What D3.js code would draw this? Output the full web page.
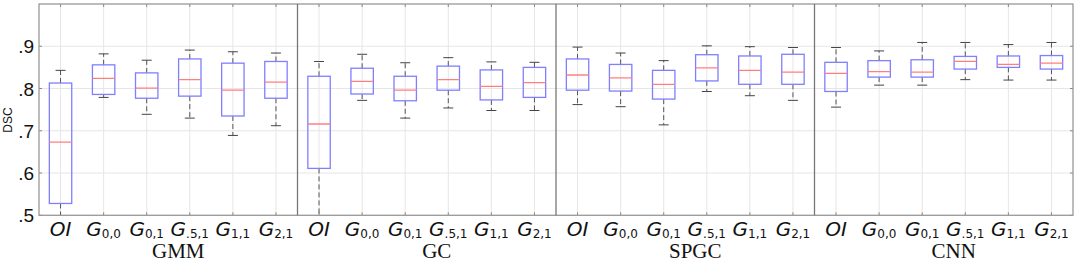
<!DOCTYPE html>
<html><head><meta charset="utf-8">
<script src="https://cdn.jsdelivr.net/npm/d3@7"></script>
<style>body{margin:0;background:#fff}</style>
</head><body>
<svg id="c" width="1078" height="265"></svg>
<script>
const groups = ["GMM", "GC", "SPGC", "CNN"];
const methods = ["OI", "G0,0", "G0,1", "G.5,1", "G1,1", "G2,1"];
const methodBase = ["OI", "G", "G", "G", "G", "G"];
const methodSub = ["", "0,0", "0,1", ".5,1", "1,1", "2,1"];
const yTicks = [0.5, 0.6, 0.7, 0.8, 0.9];
const yTickLabels = [".5", ".6", ".7", ".8", ".9"];
// [lower whisker, Q1, median, Q3, upper whisker]
const gmm = [[0.45, 0.528, 0.673, 0.813, 0.843], [0.779, 0.786, 0.824, 0.856, 0.882], [0.739, 0.777, 0.801, 0.837, 0.867], [0.730, 0.782, 0.821, 0.870, 0.891], [0.689, 0.735, 0.796, 0.860, 0.887], [0.712, 0.777, 0.815, 0.864, 0.884]];
const gc = [[0.45, 0.611, 0.716, 0.829, 0.864], [0.772, 0.787, 0.817, 0.848, 0.881], [0.730, 0.771, 0.796, 0.829, 0.861], [0.754, 0.796, 0.821, 0.853, 0.873], [0.748, 0.773, 0.805, 0.844, 0.863], [0.748, 0.779, 0.814, 0.850, 0.862]];
const spgc = [[0.762, 0.796, 0.832, 0.870, 0.898], [0.757, 0.794, 0.825, 0.857, 0.884], [0.714, 0.775, 0.810, 0.843, 0.866], [0.793, 0.818, 0.849, 0.880, 0.901], [0.783, 0.810, 0.843, 0.877, 0.899], [0.772, 0.810, 0.839, 0.881, 0.897]];
const cnn = [[0.756, 0.793, 0.836, 0.862, 0.897], [0.808, 0.827, 0.840, 0.866, 0.889], [0.808, 0.827, 0.839, 0.868, 0.909], [0.821, 0.846, 0.864, 0.876, 0.909], [0.820, 0.850, 0.857, 0.877, 0.904], [0.820, 0.846, 0.860, 0.878, 0.909]];
const stats = [gmm, gc, spgc, cnn];

const svg = d3.select("#c");
const L = 39, R = 1073, T = 4, B = 215.3;
const y = d3.scaleLinear().domain([0.5, 1.0]).range([B, T]);
const xg = d3.scaleBand().domain(groups).range([L, R]);
const xc = d3.scaleBand().domain(methods).range([0, xg.bandwidth()]);
const boxW = xc.bandwidth() * 0.52, capW = 10;

svg.append("defs").append("clipPath").attr("id", "clip")
  .append("rect").attr("x", L).attr("y", T).attr("width", R - L).attr("height", B - T);

// horizontal grid
svg.append("g").selectAll("line").data(yTicks.slice(1)).join("line")
  .attr("x1", L).attr("x2", R).attr("y1", d => y(d)).attr("y2", d => y(d))
  .attr("stroke", "#e6e6e6").attr("stroke-width", 1);

// vertical grid + ticks
groups.forEach(g => {
  methods.forEach(m => {
    const cx = xg(g) + xc(m) + xc.bandwidth() / 2;
    svg.append("line").attr("x1", cx).attr("x2", cx).attr("y1", T).attr("y2", B)
      .attr("stroke", "#e6e6e6").attr("stroke-width", 1);
    svg.append("line").attr("x1", cx).attr("x2", cx).attr("y1", T).attr("y2", T + 3)
      .attr("stroke", "#888").attr("stroke-width", 1);
    svg.append("line").attr("x1", cx).attr("x2", cx).attr("y1", B).attr("y2", B - 3)
      .attr("stroke", "#888").attr("stroke-width", 1);
  });
});

// y ticks
yTicks.forEach(t => {
  svg.append("line").attr("x1", L).attr("x2", L + 3).attr("y1", y(t)).attr("y2", y(t))
    .attr("stroke", "#888");
  svg.append("line").attr("x1", R).attr("x2", R - 3).attr("y1", y(t)).attr("y2", y(t))
    .attr("stroke", "#888");
});

// boxes
const plot = svg.append("g").attr("clip-path", "url(#clip)");
groups.forEach((g, gi) => {
  stats[gi].forEach((s, mi) => {
    const cx = xg(g) + xc(methods[mi]) + xc.bandwidth() / 2;
    const [lo, q1, md, q3, hi] = s;
    const gg = plot.append("g");
    gg.append("line").attr("x1", cx).attr("x2", cx).attr("y1", y(q3)).attr("y2", y(hi))
      .attr("stroke", "#555").attr("stroke-dasharray", "5,3").attr("stroke-width", 1);
    gg.append("line").attr("x1", cx).attr("x2", cx).attr("y1", y(q1)).attr("y2", y(lo))
      .attr("stroke", "#555").attr("stroke-dasharray", "5,3").attr("stroke-width", 1);
    gg.append("line").attr("x1", cx - capW / 2).attr("x2", cx + capW / 2).attr("y1", y(hi)).attr("y2", y(hi))
      .attr("stroke", "#444").attr("stroke-width", 1);
    gg.append("line").attr("x1", cx - capW / 2).attr("x2", cx + capW / 2).attr("y1", y(lo)).attr("y2", y(lo))
      .attr("stroke", "#444").attr("stroke-width", 1);
    gg.append("rect").attr("x", cx - boxW / 2).attr("y", y(q3)).attr("width", boxW)
      .attr("height", y(q1) - y(q3)).attr("fill", "none").attr("stroke", "#7f7fff").attr("stroke-width", 1.3);
    gg.append("line").attr("x1", cx - boxW / 2).attr("x2", cx + boxW / 2).attr("y1", y(md)).attr("y2", y(md))
      .attr("stroke", "#ff7f7f").attr("stroke-width", 1.3);
  });
});

// frame
svg.append("rect").attr("x", L).attr("y", T).attr("width", R - L).attr("height", B - T)
  .attr("fill", "none").attr("stroke", "#999").attr("stroke-width", 1.3);
// group separators
groups.slice(1).forEach(g => {
  svg.append("line").attr("x1", xg(g)).attr("x2", xg(g)).attr("y1", T).attr("y2", B)
    .attr("stroke", "#777").attr("stroke-width", 1.3);
});

// y labels
svg.append("g").selectAll("text").data(yTicks).join("text")
  .attr("x", 34).attr("y", d => y(d) + 7).attr("text-anchor", "end")
  .attr("font-family", "Liberation Sans, Arial, sans-serif").attr("font-size", 19).attr("fill", "#111")
  .text((d, i) => yTickLabels[i]);
svg.append("text").attr("transform", "translate(12,120) rotate(-90)").attr("text-anchor", "middle")
  .attr("font-family", "Liberation Sans, Arial, sans-serif").attr("font-size", 12).attr("fill", "#111").text("DSC");

// x labels
groups.forEach((g, gi) => {
  methods.forEach((m, mi) => {
    const cx = xg(g) + xc(m) + xc.bandwidth() / 2;
    const t = svg.append("text").attr("x", cx).attr("y", 236).attr("text-anchor", "middle")
      .attr("font-family", "DejaVu Sans, sans-serif").attr("font-size", 20).attr("fill", "#111");
    t.append("tspan").attr("font-style", "italic").text(methodBase[mi]);
    if (methodSub[mi]) t.append("tspan").attr("font-size", 12).attr("dy", 2).text(methodSub[mi]);
  });
  svg.append("text").attr("x", xg(g) + xg.bandwidth() / 2 + 10).attr("y", 258).attr("text-anchor", "middle")
    .attr("font-family", "Liberation Serif, Times New Roman, serif").attr("font-size", 21).attr("fill", "#111").text(g);
});
</script>
</body></html>
